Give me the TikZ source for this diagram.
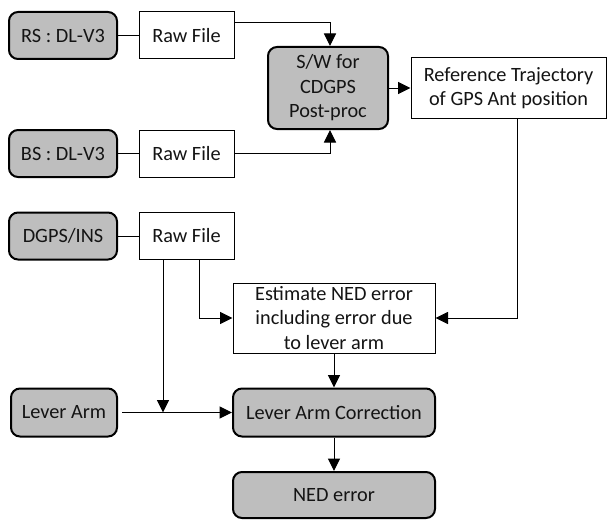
\documentclass[tikz,border=0pt]{standalone}
\usepackage{fontspec}
\setmainfont{Carlito}
\usetikzlibrary{arrows.meta,calc}
\definecolor{boxgray}{RGB}{190,190,190}
\definecolor{txt}{RGB}{20,20,20}
\tikzset{
  base/.style={inner sep=0pt, align=center, text=txt, font=\fontsize{20.3}{24.5}\selectfont},
  rbox/.style={base, draw=black, line width=2pt, fill=boxgray, rounded corners=9pt},
  sbox/.style={base, draw=black, line width=1pt, fill=white},
  conn/.style={line width=1pt, draw=black},
  arr/.style={conn, -{Triangle[length=12.5pt,width=12pt]}},
}
\begin{document}
\begin{tikzpicture}[x=1pt,y=-1pt]
\useasboundingbox (0,0) rectangle (607,519);
% nodes
\node[rbox, minimum width=108pt, minimum height=47pt] (rs) at (63,35.5) {RS : DL-V3};
\node[sbox, minimum width=95pt, minimum height=47pt] (raw1) at (186.5,35.5) {Raw File};
\node[rbox, minimum width=108pt, minimum height=47pt] (bs) at (63,153.5) {BS : DL-V3};
\node[sbox, minimum width=95pt, minimum height=47pt] (raw2) at (186.5,153.5) {Raw File};
\node[rbox, minimum width=108pt, minimum height=47pt] (dg) at (63,236) {DGPS/INS};
\node[sbox, minimum width=95pt, minimum height=47pt] (raw3) at (186.5,236) {Raw File};
\node[rbox, minimum width=106pt, minimum height=48pt] (la) at (64,412.5) {Lever Arm};
\node[rbox, minimum width=120pt, minimum height=82pt] (sw) at (328,88) {S/W for\\CDGPS\\Post-proc};
\node[sbox, minimum width=195pt, minimum height=60pt] (ref) at (508.5,88) {Reference Trajectory\\of GPS Ant position};
\node[sbox, minimum width=202pt, minimum height=70pt] (est) at (334,318) {Estimate NED error\\including error due\\to lever arm};
\node[rbox, minimum width=202pt, minimum height=48pt] (lac) at (334,412.5) {Lever Arm Correction};
\node[rbox, minimum width=202pt, minimum height=46pt] (ned) at (334,495) {NED error};
% helper coordinates
\coordinate (r1o) at ($(raw1.north east)+(0,11)$);
\coordinate (refo) at ($(ref.south)+(8.5,0)$);
\coordinate (r3a) at ($(raw3.south)+(12.5,0)$);
\coordinate (r3b) at ($(raw3.south)+(-23.5,0)$);
\coordinate (jn) at (r3b |- la.east);
% connectors
\draw[conn] (rs) -- (raw1);
\draw[conn] (bs) -- (raw2);
\draw[conn] (dg) -- (raw3);
\draw[arr] (r1o) -| ($(sw.north)+(2,0)$);
\draw[arr] (raw2.east) -| ($(sw.south)+(2,0)$);
\draw[arr] (sw) -- (ref);
\draw[arr] (refo) |- (est.east);
\draw[arr] (r3a) |- (est.west);
\draw[arr] (r3b) -- (jn);
\draw[arr] ($(la.east)+(4,0)$) -- (lac.west);
\draw[arr] (est) -- (lac);
\draw[arr] (lac) -- (ned);
\end{tikzpicture}
\end{document}
